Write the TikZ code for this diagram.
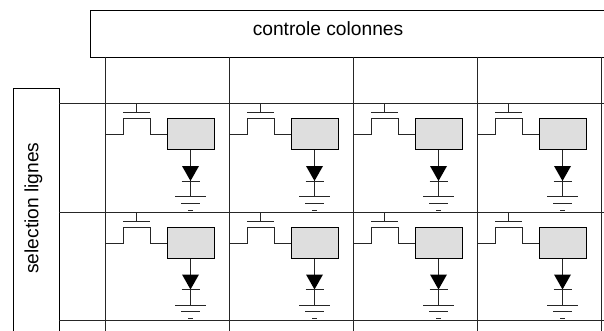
\documentclass[tikz,border=0pt]{standalone}
\usepackage{fontspec}
\setmainfont{Liberation Sans}
\usetikzlibrary{positioning}

\begin{document}
\begin{tikzpicture}[x=1pt, y=1pt, line width=1pt]
    % Styles
    \tikzstyle{bar}=[draw=black, fill=white, minimum width=0pt, inner sep=0pt]
    \tikzstyle{label}=[inner sep=0pt, font=\fontsize{19.2}{22}\selectfont]
    \tikzstyle{cell}=[draw=black, fill=black!13, minimum width=47pt, minimum height=31pt, inner sep=0pt]
    \tikzstyle{wire}=[draw=black!85, line width=1pt]

    \useasboundingbox (0,0) rectangle (604,-331);
    \clip (0,0) rectangle (604,-331);

    % Control blocks
    \node[bar, anchor=north west, minimum width=530pt, minimum height=46.5pt] (cols) at (90,-10.5) {};
    \node[bar, anchor=north west, minimum width=46pt, minimum height=260pt] (rows) at (13,-88) {};
    \node[label] (colstext) at (328,-28.5) {controle colonnes};
    \node[label, rotate=90] (rowstext) at (33.5,-208) {selection lignes};

    % Column lines
    \foreach \c in {0,...,4} {
        \coordinate (coltop\c) at (105.5+124*\c,-57);
        \coordinate (colend\c) at (105.5+124*\c,-331);
        \draw[wire] (coltop\c) -- (colend\c);
    }

    % Row lines
    \foreach \r in {0,...,2} {
        \coordinate (rowstart\r) at (59,-103.5-108.5*\r);
        \coordinate (rowend\r) at (604,-103.5-108.5*\r);
        \draw[wire] (rowstart\r) -- (rowend\r);
    }

    % Cells
    \foreach \r in {0,1} {
        \foreach \c in {0,...,3} {
            \begin{scope}[shift={(124*\c,-108.5*\r)}]
                \node[cell] (mem\c\r) at (190.5,-134.5) {};

                % Transistor
                \coordinate (in\c\r) at (105.5,-134.5);
                \coordinate (sa\c\r) at (123,-134.5);
                \coordinate (sb\c\r) at (123,-119);
                \coordinate (da\c\r) at (150,-119);
                \coordinate (db\c\r) at (150,-134.5);
                \coordinate (ga\c\r) at (123,-113);
                \coordinate (gb\c\r) at (150,-113);
                \coordinate (gm\c\r) at (136.5,-113);
                \coordinate (gt\c\r) at (136.5,-103.5);
                \draw[wire] (in\c\r) -- (sa\c\r) -- (sb\c\r) -- (da\c\r) -- (db\c\r) -- (mem\c\r.west);
                \draw[wire] (ga\c\r) -- (gb\c\r);
                \draw[wire] (gm\c\r) -- (gt\c\r);

                % Diode and ground
                \coordinate (dl\c\r) at (182,-166);
                \coordinate (dr\c\r) at (199,-166);
                \coordinate (dk\c\r) at (190.5,-181);
                \coordinate (kl\c\r) at (181.5,-181);
                \coordinate (kr\c\r) at (200,-181);
                \coordinate (g\c\r) at (190.5,-196.5);
                \coordinate (gal\c\r) at (175,-196.5);
                \coordinate (gar\c\r) at (206,-196.5);
                \coordinate (gbl\c\r) at (181,-203);
                \coordinate (gbr\c\r) at (200,-203);
                \coordinate (gcl\c\r) at (188,-210);
                \coordinate (gcr\c\r) at (193,-210);
                \draw[wire] (mem\c\r.south) -- (g\c\r);
                \fill[black] (dl\c\r) -- (dr\c\r) -- (dk\c\r) -- cycle;
                \draw[wire] (kl\c\r) -- (kr\c\r);
                \draw[wire] (gal\c\r) -- (gar\c\r);
                \draw[wire] (gbl\c\r) -- (gbr\c\r);
                \draw[wire] (gcl\c\r) -- (gcr\c\r);
            \end{scope}
        }
    }

\end{tikzpicture}
\end{document}
